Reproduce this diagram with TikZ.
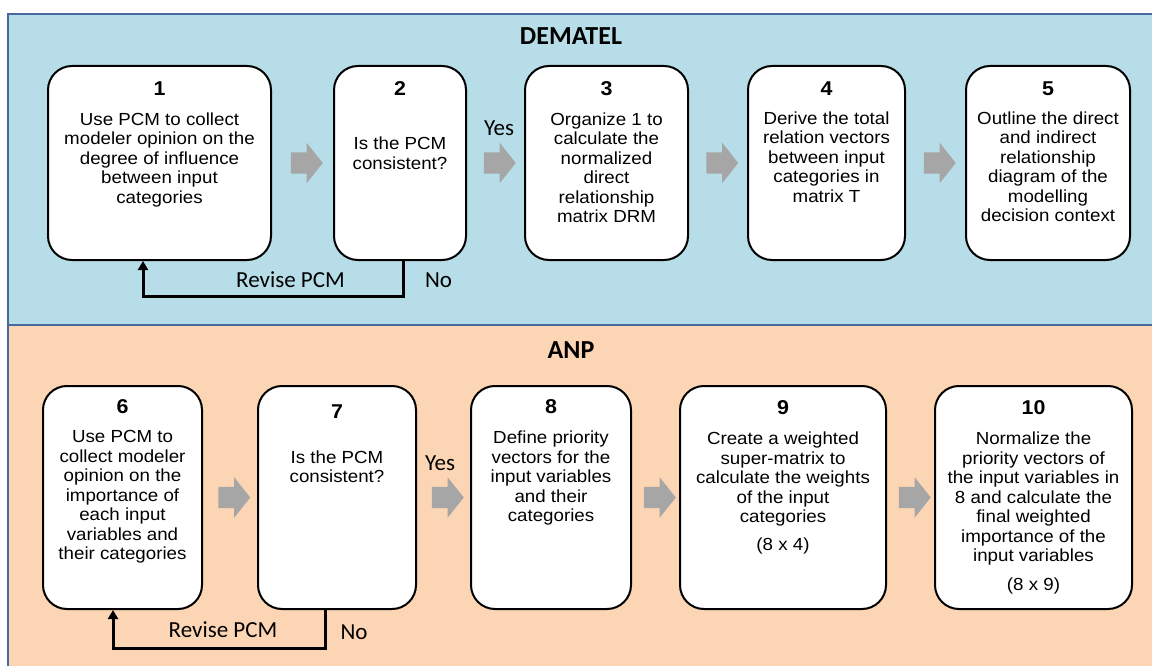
\documentclass[tikz,border=0pt]{standalone}
\usepackage{fontspec}
\newfontfamily\boxfont[FakeStretch=1.07]{Liberation Sans}
\newfontfamily\labfont{Carlito}
\usetikzlibrary{shapes.arrows,arrows.meta,calc}
\definecolor{panelblue}{HTML}{B7DDE8}
\definecolor{panelorange}{HTML}{FCD5B5}
\definecolor{panelline}{RGB}{70,105,160}
\definecolor{arrowgray}{HTML}{A6A6A6}
\begin{document}
\begin{tikzpicture}[x=1pt,y=-1pt,
 stepbox/.style={draw=black,line width=2pt,fill=white,rounded corners=24pt,inner sep=0pt},
 numtext/.style={font=\boxfont\bfseries\fontsize{20}{22}\selectfont,inner sep=0pt},
 bodytext/.style={font=\boxfont\fontsize{17.5}{19.5}\selectfont,align=center,inner sep=0pt,anchor=north},
 blockarrow/.style={single arrow,draw=none,fill=arrowgray,minimum height=32pt,minimum width=40pt,single arrow head extend=9.5pt,single arrow tip angle=103,inner xsep=0pt,inner ysep=10.5pt},
 feedback/.style={line width=3pt,-{Triangle[width=10pt,length=9pt]}},
 lab/.style={font=\labfont\fontsize{23}{25}\selectfont,inner sep=0pt},
 titletext/.style={font=\labfont\bfseries\fontsize{26}{28}\selectfont,inner sep=0pt}]
\useasboundingbox (0,0) rectangle (1152,666);
% panels
\fill[panelblue] (8,14) rectangle (1160,325);
\fill[panelorange] (8,325) rectangle (1160,670);
\draw[panelline,line width=2pt] (1160,14) -- (8,14) -- (8,670);
\draw[panelline,line width=2pt] (8,325) -- (1160,325);
% titles
\node[titletext] (dematel) at (571,36.5) {DEMATEL};
\node[titletext] (anp) at (571,350.5) {ANP};
% top boxes
\node[stepbox,minimum width=223pt,minimum height=194pt] (b1) at (159.5,163) {};
\node[stepbox,minimum width=132pt,minimum height=194pt] (b2) at (400,163) {};
\node[stepbox,minimum width=163pt,minimum height=194pt] (b3) at (606.5,163) {};
\node[stepbox,minimum width=157pt,minimum height=194pt] (b4) at (826.5,163) {};
\node[stepbox,minimum width=164pt,minimum height=194pt] (b5) at (1048,163) {};
% bottom boxes
\node[stepbox,minimum width=159pt,minimum height=223pt] (b6) at (122.5,497.5) {};
\node[stepbox,minimum width=158pt,minimum height=223pt] (b7) at (337,497.5) {};
\node[stepbox,minimum width=160pt,minimum height=223pt] (b8) at (551,497.5) {};
\node[stepbox,minimum width=206pt,minimum height=223pt] (b9) at (783,497.5) {};
\node[stepbox,minimum width=197pt,minimum height=223pt] (b10) at (1033.5,497.5) {};
% numbers
\node[numtext] (n1) at (159.5,88.5) {1};
\node[numtext] (n2) at (400,88.5) {2};
\node[numtext] (n3) at (606.5,88.5) {3};
\node[numtext] (n4) at (826.5,88.5) {4};
\node[numtext] (n5) at (1048,88.5) {5};
\node[numtext] (n6) at (122.5,407) {6};
\node[numtext] (n7) at (337,412) {7};
\node[numtext] (n8) at (551,407) {8};
\node[numtext] (n9) at (783,408) {9};
\node[numtext] (n10) at (1033.5,408) {10};
% texts
\node[bodytext] (t1) at (159.5,112.5) {Use PCM to collect\\modeler opinion on the\\degree of influence\\between input\\categories};
\node[bodytext] (t2) at (400,137) {Is the PCM\\consistent?};
\node[bodytext] (t3) at (606.5,112.5) {Organize 1 to\\calculate the\\normalized\\direct\\relationship\\matrix DRM};
\node[bodytext] (t4) at (826.5,111.5) {Derive the total\\relation vectors\\between input\\categories in\\matrix T};
\node[bodytext] (t5) at (1048,111.5) {Outline the direct\\and indirect\\relationship\\diagram of the\\modelling\\decision context};
\node[bodytext] (t6) at (122.5,430.5) {Use PCM to\\collect modeler\\opinion on the\\importance of\\each input\\variables and\\their categories};
\node[bodytext] (t7) at (337,450.5) {Is the PCM\\consistent?};
\node[bodytext] (t8) at (551,431) {Define priority\\vectors for the\\input variables\\and their\\categories};
\node[bodytext] (t9) at (783,432) {Create a weighted\\super-matrix to\\calculate the weights\\of the input\\categories\\[8.5pt](8 x 4)};
\node[bodytext] (t10) at (1033.5,432) {Normalize the\\priority vectors of\\the input variables in\\8 and calculate the\\final weighted\\importance of the\\input variables\\[9.5pt](8 x 9)};
% block arrows
\node[blockarrow] (a12) at ($(b1.east)!0.5!(b2.west)$) {};
\node[blockarrow] (a23) at ($(b2.east)!0.5!(b3.west)$) {};
\node[blockarrow] (a34) at ($(b3.east)!0.5!(b4.west)$) {};
\node[blockarrow] (a45) at ($(b4.east)!0.5!(b5.west)$) {};
\node[blockarrow] (a67) at ($(b6.east)!0.5!(b7.west)$) {};
\node[blockarrow] (a78) at ($(b7.east)!0.5!(b8.west)$) {};
\node[blockarrow] (a89) at ($(b8.east)!0.5!(b9.west)$) {};
\node[blockarrow] (a910) at ($(b9.east)!0.5!(b10.west)$) {};
% feedback loops
\coordinate (fx2) at (403,296);
\coordinate (fx1) at (143,296);
\draw[feedback] (b2.south -| fx2) -- (fx2) -- (fx1) -- (b1.south -| fx1);
\coordinate (gx2) at (325,648);
\coordinate (gx1) at (113,648);
\draw[feedback] (b7.south -| gx2) -- (gx2) -- (gx1) -- (b6.south -| gx1);
% labels
\node[lab] (yes1) at (499,128) {Yes};
\node[lab] (no1) at (438.5,280) {No};
\node[lab] (rev1) at (290.5,280) {Revise PCM};
\node[lab] (yes2) at (440,463) {Yes};
\node[lab] (no2) at (354,632) {No};
\node[lab] (rev2) at (223,630) {Revise PCM};
\end{tikzpicture}
\end{document}
